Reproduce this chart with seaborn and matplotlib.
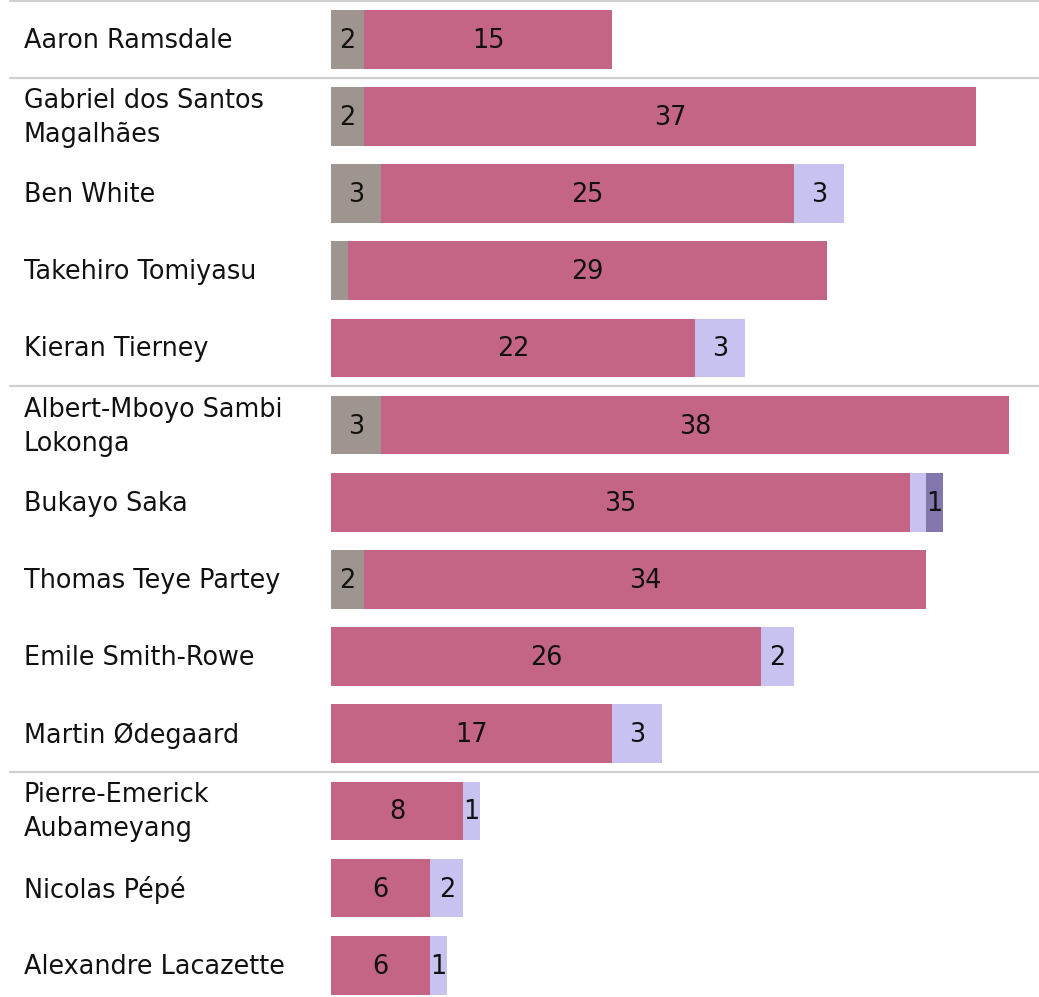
import matplotlib
matplotlib.use("Agg")
import matplotlib.pyplot as plt
import seaborn as sns
import numpy as np
import pandas as pd

players = ["Aaron Ramsdale", "Gabriel dos Santos\nMagalhães", "Ben White",
           "Takehiro Tomiyasu", "Kieran Tierney", "Albert-Mboyo Sambi\nLokonga",
           "Bukayo Saka", "Thomas Teye Partey", "Emile Smith-Rowe",
           "Martin Ødegaard", "Pierre-Emerick\nAubameyang", "Nicolas Pépé",
           "Alexandre Lacazette"]
seg_grey = [2, 2, 3, 1, 0, 3, 0, 2, 0, 0, 0, 0, 0]
seg_pink = [15, 37, 25, 29, 22, 38, 35, 34, 26, 17, 8, 6, 6]
seg_lav = [0, 0, 3, 0, 3, 0, 1, 0, 2, 3, 1, 2, 1]
seg_purple = [0, 0, 0, 0, 0, 0, 1, 0, 0, 0, 0, 0, 0]
# labels hidden for these (row, segment) pairs, as in the reference
hidden = [(3, 0), (6, 2)]
group_breaks = [-0.5, 0.5, 4.5, 9.5]

colors = ["#9e9590", "#c46585", "#c8c2f0", "#8477ae"]

W, H = 1039, 997
fig = plt.figure(figsize=(W / 100, H / 100), dpi=100)
sns.set_style("white")
plt.rcParams["font.family"] = ["DejaVu Sans"]

x0, x1 = 331, 1039
row_h = 77.17
top_px = 0.6
n = len(players)
bottom_px = top_px + n * row_h
ax = fig.add_axes([x0 / W, 1 - bottom_px / H, (x1 - x0) / W, (n * row_h) / H])

segs = [seg_grey, seg_pink, seg_lav, seg_purple]
cum = np.zeros(n)
cums = []
for s in segs:
    cum = cum + np.array(s)
    cums.append(cum.copy())

for k in range(3, -1, -1):
    d = pd.DataFrame({"player": players, "val": cums[k]})
    sns.barplot(data=d, y="player", x="val", orient="h", color=colors[k],
                saturation=1, width=0.76, ax=ax, order=players, linewidth=0)

ax.set_xlim(0, (x1 - x0) / 16.54)
ax.set_ylim(n - 0.5, -0.5)
sns.despine(ax=ax, left=True, bottom=True)
ax.set_xticks([])
ax.set_yticks([])
ax.set_xlabel("")
ax.set_ylabel("")

FS = 18.4
for i in range(n):
    start = 0
    for k, s in enumerate(segs):
        v = s[i]
        if v > 0 and (i, k) not in hidden:
            ax.text(start + v / 2, i + 0.02, str(v), ha="center", va="center",
                    fontsize=FS, color="#111111")
        start += v

lab_x = (24 - x0) / (x1 - x0)
for i, p in enumerate(players):
    ax.text(lab_x, i + 0.02, p, transform=ax.get_yaxis_transform(), ha="left",
            va="center", fontsize=FS, color="#111111", linespacing=1.4)

line_x = (10 - x0) / (x1 - x0)
for y in group_breaks:
    ax.axhline(y, xmin=line_x, xmax=1, color="#d0d0d0", lw=1.6, clip_on=False)

fig.savefig("out.png", dpi=100)
